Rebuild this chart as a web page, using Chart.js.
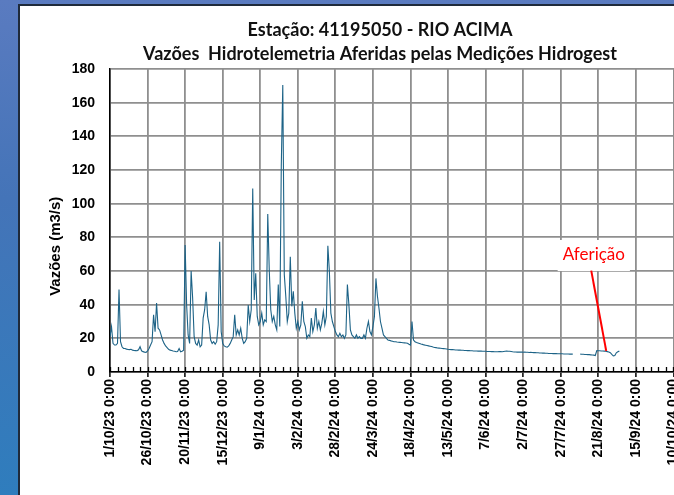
<!DOCTYPE html>
<html>
<head>
<meta charset="utf-8">
<title>Estação 41195050 - RIO ACIMA</title>
<script src="https://cdn.jsdelivr.net/npm/chart.js@4.4.1/dist/chart.umd.min.js"></script>
<style>
  html, body { margin: 0; padding: 0; width: 674px; height: 495px; overflow: hidden; }
  body { position: relative; background: linear-gradient(180deg, #5a7bc0 0%, #4474b8 40%, #2f7dbd 100%); }
  #panel { position: absolute; left: 18px; top: 4px; right: 0; bottom: 0; background: #fff;
           border-left: 2px solid #1f2a3a; border-top: 2px solid #1f2a3a; }
  #chart { position: absolute; left: 0; top: 0; }
</style>
</head>
<body>
<div id="panel"></div>
<canvas id="chart" width="740" height="495"></canvas>
<script>
// daily discharge (m3/s), day 0 = 1/10/23; null = no telemetry
const flow = [
  21, 27, 17, 16, 16, 17, 49, 18, 15, 14,
  14, 13.6, 13.4, 13.3, 13.5, 13.0, 12.8, 12.7, 12.6, 13.2,
  15.0, 12.6, 12.1, 11.8, 11.6, 12.5, 14, 16, 18, 34,
  24, 41, 26, 25, 22, 19, 17, 15.5, 14.5, 13.5,
  13, 12.8, 12.5, 12.3, 12, 12.2, 14, 12, 12.3, 13,
  75.5, 40, 22, 17, 60, 44, 21, 17, 16, 19,
  15, 16, 32, 37, 47.7, 33, 28, 19, 17, 18,
  16.5, 18, 28, 77.4, 24, 17, 15.5, 15, 14.8, 15.5,
  17, 19, 21, 34, 22, 25, 22, 26, 20, 17,
  18, 20, 39.8, 30, 37, 109, 42.8, 58.6, 33, 28,
  30, 35, 28, 31, 30, 93.9, 60.6, 37, 30, 33,
  28, 25, 52, 27, 122, 170.5, 58, 45, 30, 35,
  68.5, 39, 48, 35, 26, 30, 25, 28, 42, 30,
  27, 20, 22, 21, 32, 24, 28, 38, 26, 30,
  25, 29, 36, 28, 33, 75, 60, 35, 30, 27,
  24, 22, 21, 23, 21, 22, 20, 22, 52, 40,
  25, 22, 21, 20, 22, 20, 21, 20, 20, 22,
  20, 26, 30, 24, 22, 27, 33, 55.6, 45, 38,
  30, 26, 22, 21, 20, 19, 18.8, 18.5, 18.3, 18,
  18, 17.8, 17.7, 17.6, 17.5, 17.4, 17.3, 17.2, 17.1, 16.5,
  16, 30, 19, 18, 17.5, 17.2, 16.9, 16.6, 16.4, 16.1,
  15.9, 15.7, 15.5, 15.3, 15.1, 14.8, 14.6, 14.5, 14.3, 14.2,
  14.1, 14.0, 13.9, 13.8, 13.7, 13.5, 13.4, 13.3, 13.3, 13.2,
  13.1, 13.1, 13.0, 13.0, 12.9, 12.9, 12.8, 12.8, 12.7, 12.7,
  12.6, 12.6, 12.5, 12.5, 12.5, 12.4, 12.4, 12.4, 12.3, 12.3,
  12.3, 12.2, 12.2, 12.2, 12.1, 12.1, 12.0, 12.0, 12.0, 12.1,
  12.1, 12.0, 12.2, 12.3, 12.4, 12.3, 12.3, 12.2, 12.0, 11.9,
  11.9, 11.8, 11.8, 11.9, 11.8, 11.7, 11.8, 11.7, 11.7, 11.6,
  11.7, 11.6, 11.5, 11.5, 11.4, 11.4, 11.3, 11.3, 11.2, 11.2,
  11.1, 11.1, 11.0, 11.0, 11.0, 10.9, 10.9, 10.9, 10.8, 10.8,
  10.8, 10.8, 10.7, 10.7, 10.7, 10.7, 10.6, 10.6, 10.6, null,
  null, null, null, 10.6, 10.5, 10.5, 10.4, 10.4, 10.3, 10.3,
  10.2, 10.1, 10.0, 9.8, 12.7, 12.6, 12.6, 12.5, 12.5, 12.4,
  12.3, 12.1, 11.9, 11.5, 10.5, 9.6, 9.8, 11.4, 12.0, 12.4
];

// one label every 25 days
const tickLabels = [
  '1/10/23 0:00', '26/10/23 0:00', '20/11/23 0:00', '15/12/23 0:00', '9/1/24 0:00',
  '3/2/24 0:00', '28/2/24 0:00', '24/3/24 0:00', '18/4/24 0:00', '13/5/24 0:00',
  '7/6/24 0:00', '2/7/24 0:00', '27/7/24 0:00', '21/8/24 0:00', '15/9/24 0:00',
  '10/10/24 0:00', '4/11/24 0:00'
];

const titleLines = [
  'Estação: 41195050 - RIO ACIMA',
  'Vazões  Hidrotelemetria Aferidas pelas Medições Hidrogest'
];

const yTitle = 'Vazões (m3/s)';

// callout: label position and pointer line, in day / m3/s
const note = { text: 'Aferição', day: 322, value: 69.5, from: [320.3, 60.2], to: [330.3, 12.5] };

const axisFont = { family: "'Liberation Sans', Arial, sans-serif", size: 14, weight: 'bold' };

const minorTicks = {
  id: 'minorTicks',
  afterDatasetsDraw(chart) {
    const { ctx, chartArea, scales: { x } } = chart;
    ctx.save();
    ctx.strokeStyle = '#000';
    ctx.lineWidth = 1.3;
    ctx.beginPath();
    for (let d = 0; d <= x.max; d += 5) {
      const px = Math.round(x.getPixelForValue(d)) + 0.5;
      ctx.moveTo(px, chartArea.bottom);
      ctx.lineTo(px, chartArea.bottom - 5);
    }
    ctx.stroke();
    ctx.restore();
  }
};

// axis title sits a bit below the middle of the plot
const yAxisTitle = {
  id: 'yAxisTitle',
  afterDraw(chart) {
    const { ctx, chartArea } = chart;
    ctx.save();
    ctx.translate(56, chartArea.top + (chartArea.bottom - chartArea.top) * 0.585);
    ctx.rotate(-Math.PI / 2);
    ctx.font = "bold 15px 'Liberation Sans', Arial, sans-serif";
    ctx.fillStyle = '#000';
    ctx.textAlign = 'center';
    ctx.textBaseline = 'middle';
    ctx.fillText(yTitle, 0, 0);
    ctx.restore();
  }
};

const calibrationNote = {
  id: 'calibrationNote',
  afterDatasetsDraw(chart) {
    const { ctx, scales: { x, y } } = chart;
    const tx = x.getPixelForValue(note.day);
    const ty = y.getPixelForValue(note.value);
    ctx.save();
    ctx.font = '17px Lato';
    const w = ctx.measureText(note.text).width;
    ctx.fillStyle = '#fff';
    ctx.fillRect(tx - w / 2 - 5, ty - 15, w + 10, 31);
    ctx.strokeStyle = '#ff0000';
    ctx.lineWidth = 2;
    ctx.beginPath();
    ctx.moveTo(x.getPixelForValue(note.from[0]), y.getPixelForValue(note.from[1]));
    ctx.lineTo(x.getPixelForValue(note.to[0]), y.getPixelForValue(note.to[1]));
    ctx.stroke();
    ctx.fillStyle = '#ff0000';
    ctx.textAlign = 'center';
    ctx.textBaseline = 'middle';
    ctx.fillText(note.text, tx, ty);
    ctx.restore();
  }
};

new Chart(document.getElementById('chart'), {
  type: 'line',
  data: {
    datasets: [{
      data: flow.map((v, i) => ({ x: i, y: v })),
      borderColor: '#1d6387',
      borderWidth: 1.1,
      pointRadius: 0,
      tension: 0,
      spanGaps: false
    }]
  },
  options: {
    responsive: false,
    animation: false,
    devicePixelRatio: 1,
    layout: { padding: { left: 34, top: 18, right: 14, bottom: 0 } },
    plugins: {
      legend: { display: false },
      tooltip: { enabled: false },
      title: {
        display: true,
        text: titleLines,
        color: '#111',
        font: { family: 'Lato', size: 18, weight: 'bold', lineHeight: 1.333 },
        padding: { top: 0, bottom: 3 }
      }
    },
    scales: {
      x: {
        type: 'linear',
        min: 0,
        max: 410,
        afterFit: s => { s.height = 123; },
        border: { color: '#000', width: 1.5 },
        grid: { color: '#8f8f8f', lineWidth: 1.8, tickLength: 5, tickColor: '#000', tickWidth: 1.5 },
        ticks: {
          stepSize: 25,
          includeBounds: false,
          autoSkip: false,
          minRotation: 90,
          maxRotation: 90,
          padding: 2,
          color: '#000',
          font: axisFont,
          callback: v => tickLabels[v / 25] ?? ''
        }
      },
      y: {
        min: 0,
        max: 180,
        afterFit: s => { s.width = 76; },
        border: { color: '#000', width: 1.5 },
        grid: { color: '#8f8f8f', lineWidth: 1.8, drawTicks: false },
        ticks: { stepSize: 20, padding: 15, color: '#000', font: axisFont }
      }
    }
  },
  plugins: [minorTicks, calibrationNote, yAxisTitle]
});
</script>
</body>
</html>
